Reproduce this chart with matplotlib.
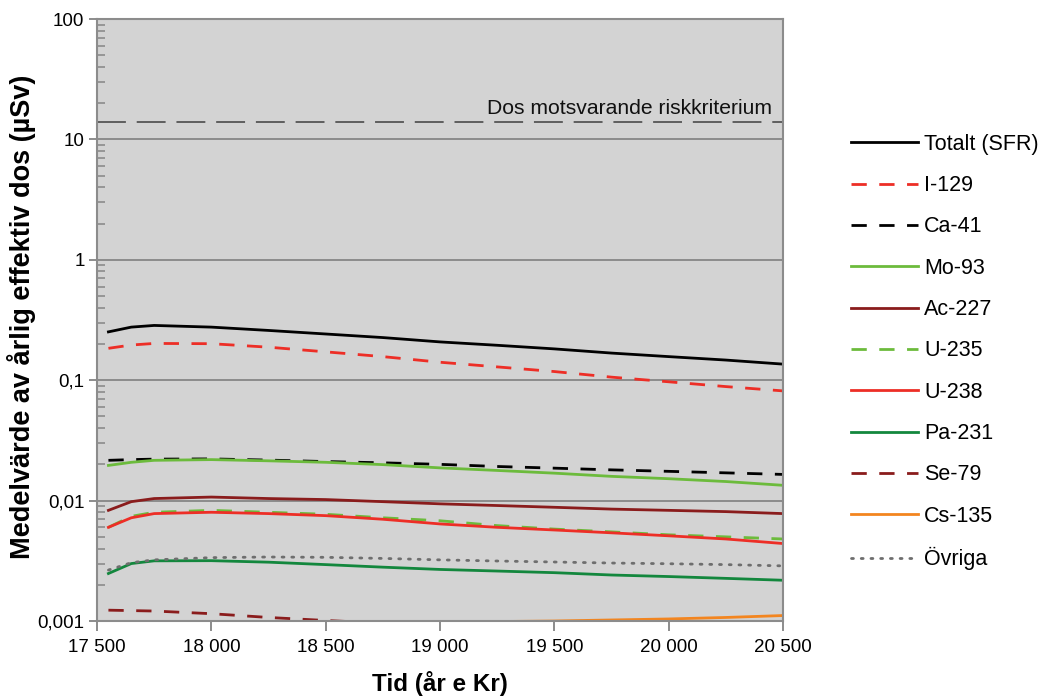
import matplotlib
matplotlib.use("Agg")
import matplotlib.pyplot as plt
from matplotlib.ticker import FixedLocator, LogLocator, NullFormatter

plt.rcParams['font.family'] = ['Liberation Sans', 'DejaVu Sans']

# ---- data ----
years = [17550, 17650, 17750, 18000, 18250, 18500, 18750, 19000, 19250, 19500, 19750, 20000, 20250, 20500]

totalt = [0.252, 0.276, 0.285, 0.276, 0.259, 0.242, 0.226, 0.208, 0.195, 0.182, 0.168, 0.157, 0.147, 0.136]
i129 = [0.184, 0.196, 0.202, 0.201, 0.188, 0.172, 0.157, 0.141, 0.129, 0.118, 0.106, 0.097, 0.0885, 0.0815]
ca41 = [0.0216, 0.0219, 0.0221, 0.0222, 0.0217, 0.0211, 0.0206, 0.0200, 0.0192, 0.0186, 0.0180, 0.0175, 0.0170, 0.0165]
mo93 = [0.0196, 0.0208, 0.0216, 0.0219, 0.0214, 0.0208, 0.0199, 0.0187, 0.0178, 0.0169, 0.0159, 0.0152, 0.0144, 0.0134]
ac227 = [0.0083, 0.0098, 0.0104, 0.0107, 0.0104, 0.0102, 0.0098, 0.0094, 0.0091, 0.0088, 0.0085, 0.0083, 0.0081, 0.0078]
u235 = [0.0060, 0.0074, 0.0080, 0.0083, 0.0080, 0.0077, 0.0072, 0.0068, 0.0062, 0.0058, 0.0055, 0.0052, 0.0050, 0.0048]
u238 = [0.0060, 0.0072, 0.0078, 0.0080, 0.0078, 0.0075, 0.0070, 0.0064, 0.0060, 0.0057, 0.0054, 0.0051, 0.0048, 0.0044]
pa231 = [0.00248, 0.00300, 0.00316, 0.00317, 0.00308, 0.00294, 0.00280, 0.00268, 0.00260, 0.00252, 0.00241, 0.00234, 0.00226, 0.00218]
se79 = [0.00123, 0.00122, 0.00121, 0.00115, 0.00107, 0.00101, 0.00096, 0.00093, 0.00089, 0.00086, 0.00083, 0.00080, 0.00077, 0.00075]
cs135 = [0.00060, 0.00068, 0.00073, 0.00081, 0.00087, 0.00091, 0.00095, 0.00097, 0.00099, 0.00100, 0.00102, 0.00104, 0.00107, 0.00111]
ovriga = [0.00265, 0.00305, 0.00322, 0.00336, 0.00340, 0.00338, 0.00331, 0.00322, 0.00315, 0.00309, 0.00303, 0.00299, 0.00294, 0.00287]

risk_dose = 14.0
risk_label = "Dos motsvarande riskkriterium"

x_ticks = [17500, 18000, 18500, 19000, 19500, 20000, 20500]
x_ticklabels = ["17 500", "18 000", "18 500", "19 000", "19 500", "20 000", "20 500"]
y_ticks = [0.001, 0.01, 0.1, 1, 10, 100]
y_ticklabels = ["0,001", "0,01", "0,1", "1", "10", "100"]

# ---- styling ----
RED = "#ED2E26"
LGREEN = "#6CBB3C"
DRED = "#8A1C1C"
DGREEN = "#13873D"
ORANGE = "#F3851F"
GRAY = "#8C8C8C"

series = [
    ("Totalt (SFR)", totalt, "black", None),
    ("I-129", i129, RED, (5.5, 4.5)),
    ("Ca-41", ca41, "black", (5.5, 4.5)),
    ("Mo-93", mo93, LGREEN, None),
    ("Ac-227", ac227, DRED, None),
    ("U-235", u235, LGREEN, (5.5, 4.5)),
    ("U-238", u238, RED, None),
    ("Pa-231", pa231, DGREEN, None),
    ("Se-79", se79, DRED, (5.5, 4.5)),
    ("Cs-135", cs135, ORANGE, None),
    ("Övriga", ovriga, "#6E6E6E", (0.7, 2.8)),
]

fig = plt.figure(figsize=(10.41, 6.97), dpi=100)
ax = fig.add_axes([97/1041, 1-621/697, (783-97)/1041, (621-19)/697])
ax.set_facecolor("#D3D3D3")

ax.set_yscale("log")
ax.set_xlim(17500, 20500)
ax.set_ylim(0.001, 100)

for y in y_ticks:
    ax.axhline(y, color=GRAY, lw=1.4, zorder=1)

handles = []
for name, vals, col, dash in series:
    if name == "Övriga":
        ln, = ax.plot(years, vals, color=col, lw=2.0, label=name, zorder=2)
        ln.set_dashes(dash)
        ln.set_dash_capstyle("round")
    elif dash is None:
        ln, = ax.plot(years, vals, color=col, lw=2.0, label=name, zorder=2)
    else:
        ln, = ax.plot(years, vals, color=col, lw=2.0, label=name, zorder=2)
        ln.set_dashes(dash)
    handles.append(ln)

ax.axhline(risk_dose, color="#555555", lw=1.3, dashes=(16, 6), zorder=2)
ax.annotate(risk_label, xy=(20450, risk_dose), xytext=(0, 3), textcoords="offset points",
            ha="right", va="bottom", fontsize=15.2, color="#111111")

for s in ax.spines.values():
    s.set_color(GRAY)
    s.set_linewidth(1.5)

ax.yaxis.set_major_locator(FixedLocator(y_ticks))
ax.set_yticklabels(y_ticklabels)
ax.yaxis.set_minor_locator(LogLocator(base=10, subs=range(2, 10)))
ax.yaxis.set_minor_formatter(NullFormatter())
ax.tick_params(axis="y", which="major", direction="out", length=6, width=1.4, color=GRAY,
               labelsize=13.5, pad=3)
ax.tick_params(axis="y", which="minor", direction="in", length=6, width=1.2, color=GRAY)

ax.set_xticks(x_ticks)
ax.set_xticklabels(x_ticklabels)
ax.tick_params(axis="x", which="major", direction="out", length=7, width=1.4, color=GRAY,
               labelsize=13.5, pad=6)
ax.tick_params(axis="x", which="minor", length=0)

fig.text(22/1041, 1-317/697, "Medelvärde av årlig effektiv dos (µSv)", rotation=90,
         ha="center", va="center", fontsize=19.5, fontweight="bold")
fig.text(440/1041, 1-683/697, "Tid (år e Kr)", ha="center", va="center",
         fontsize=17.5, fontweight="bold")

fig.legend(handles=handles, loc="center left", bbox_to_anchor=(851/1041, 1-352/697),
           frameon=False, fontsize=15.5, handlelength=3.1, handletextpad=0.3,
           labelspacing=0.945, borderpad=0, borderaxespad=0)

fig.savefig("out.png", dpi=100)
